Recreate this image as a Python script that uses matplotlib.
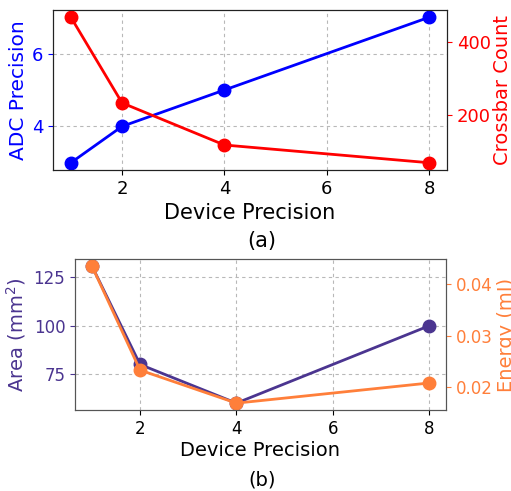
import matplotlib
matplotlib.use("Agg")
import matplotlib.pyplot as plt

device_precision = [1, 2, 4, 8]
adc_precision = [3, 4, 5, 7]
crossbar_count = [466, 234, 120, 72]
area_mm2 = [131, 80, 60, 100]
energy_mj = [0.0435, 0.0233, 0.0169, 0.0208]

c_blue = 'blue'
c_red = 'red'
c_purple = '#4B3590'
c_orange = '#FF7F3A'

W, H = 511, 491
fig = plt.figure(figsize=(W / 100, H / 100), dpi=100)

def rect(l, t, r, b):
    return [l / W, 1 - b / H, (r - l) / W, (b - t) / H]

grid_kw = dict(linestyle=(0, (3, 3)), color='#b8b8b8', linewidth=0.8)

# (a)
ax1 = fig.add_axes(rect(53, 10, 447, 170))
ax1.plot(device_precision, adc_precision, '-o', color=c_blue, lw=2, ms=9)
ax1.set_ylabel('ADC Precision', color=c_blue, fontsize=14.5, labelpad=3)
ax1.tick_params(axis='y', colors=c_blue, labelsize=13)
ax1.tick_params(axis='x', labelsize=13)
ax1.set_xlabel('Device Precision', fontsize=15)
ax1.grid(True, **grid_kw)
ax1.set_xticks([2, 4, 6, 8])
ax1.set_yticks([4, 6])
ax1b = ax1.twinx()
ax1b.plot(device_precision, crossbar_count, '-o', color=c_red, lw=2, ms=9)
ax1b.set_ylabel('Crossbar Count', color=c_red, fontsize=14, labelpad=1.5)
ax1b.tick_params(axis='y', colors=c_red, labelsize=13)
ax1b.set_yticks([200, 400])
for sp in ax1b.spines.values():
    sp.set_color('#222222')
fig.text(262 / W, 1 - 241 / H, '(a)', ha='center', va='center', fontsize=15)

# (b)
ax2 = fig.add_axes(rect(75, 259, 446, 410))
ax2.plot(device_precision, area_mm2, '-o', color=c_purple, lw=2, ms=9)
ax2.set_ylabel('Area (mm$^2$)', color=c_purple, fontsize=14)
ax2.tick_params(axis='y', colors=c_purple, labelsize=12)
ax2.tick_params(axis='x', labelsize=12)
ax2.set_xlabel('Device Precision', fontsize=14, labelpad=2)
ax2.grid(True, **grid_kw)
ax2.set_xticks([2, 4, 6, 8])
ax2.set_yticks([75, 100, 125])
ax2b = ax2.twinx()
ax2b.plot(device_precision, energy_mj, '-o', color=c_orange, lw=2, ms=9)
ax2b.set_ylabel('Energy (mJ)', color=c_orange, fontsize=14, labelpad=3)
ax2b.tick_params(axis='y', colors=c_orange, labelsize=12)
ax2b.set_yticks([0.02, 0.03, 0.04])
for sp in ax2b.spines.values():
    sp.set_color('#555555')
for sp in ax2.spines.values():
    sp.set_color('#555555')
fig.text(262 / W, 1 - 480 / H, '(b)', ha='center', va='center', fontsize=14)

fig.savefig('out.png', dpi=100)
